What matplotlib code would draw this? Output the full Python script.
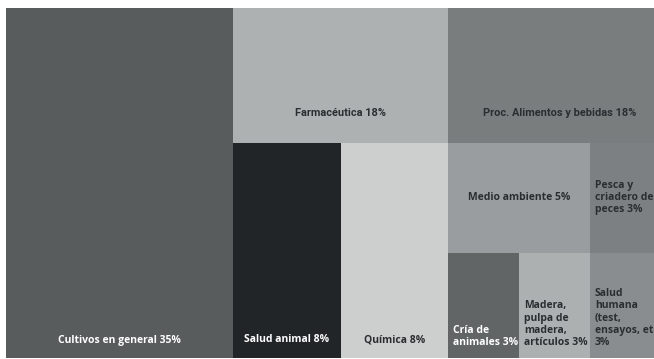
import matplotlib
matplotlib.use("Agg")
import matplotlib.pyplot as plt
from matplotlib.patches import Rectangle

# sector shares (%)
labels = ["Cultivos en general", "Farmacéutica", "Proc. Alimentos y bebidas",
          "Salud animal", "Química", "Medio ambiente",
          "Pesca y\ncriadero de\npeces", "Cría de\nanimales", "Madera,\npulpa de\nmadera,\nartículos",
          "Salud\nhumana\n(test,\nensayos, etc.)\n"]
shares = [35, 18, 18, 8, 8, 5, 3, 3, 3, 3]

# tile layout weights (slice and dice)
col_w = [226.7, 439.3]            # Cultivos | rest
rest_rows = [134.7, 215.3]        # top row | bottom block
top_w = [215, 224.3]              # Farmacéutica | Proc.
bottom_w = [108.3, 107, 224]      # Salud animal | Química | small block
small_rows = [110, 105.3]
small_top_w = [142, 82]
small_bot_w = [71, 71, 82]

colors = ["#585c5c", "#adb1b1", "#7a7d7e", "#222528", "#cdcfce",
          "#9a9d9f", "#7d8082", "#626566", "#adb0b1", "#8a8d8f"]
text_colors = ["white", "#2b2e31", "#2b2e31", "white", "#2b2e31",
               "#2b2e31", "#2b2e31", "white", "#2b2e31", "#2b2e31"]
# placement: (horizontal, vertical mode, offset)
placement = [("c", "bottom", 18), ("c", "bottom", 30), ("c", "bottom", 30),
             ("c", "bottom", 18), ("c", "bottom", 18), ("c", "mid", 0),
             ("l", "mid", 0), ("l", "bottom", 10), ("l", "bottom", 10),
             ("l", "bottom", 10)]


def split(x, y, w, h, weights, horizontal):
    out = []
    for wt in weights:
        if horizontal:
            out.append((x, y, wt, h))
            x += wt
        else:
            out.append((x, y, w, wt))
            y += wt
    return out


W = sum(col_w)
H = sum(rest_rows)
rects = []
c_cult, c_rest = split(0, 0, W, H, col_w, True)
rects.append(c_cult)
r_top, r_bot = split(*c_rest, rest_rows, False)
rects += split(*r_top, top_w, True)
b_sa, b_q, b_small = split(*r_bot, bottom_w, True)
rects += [b_sa, b_q]
s_top, s_bot = split(*b_small, small_rows, False)
rects += split(*s_top, small_top_w, True)
rects += split(*s_bot, small_bot_w, True)

fig = plt.figure(figsize=(6.54, 3.59), dpi=100)
ax = fig.add_axes([6 / 654, 1 / 359, W / 654, H / 359])
ax.set_xlim(0, W)
ax.set_ylim(H, 0)
ax.axis("off")

for i, (x, y, w, h) in enumerate(rects):
    ax.add_patch(Rectangle((x, y), w, h, facecolor=colors[i], edgecolor="none"))
    txt = f"{labels[i]} {shares[i]}%"
    if labels[i].endswith("\n"):
        txt = f"{labels[i]}{shares[i]}%"
    ha, vmode, off = placement[i]
    tx = x + w / 2 if ha == "c" else x + 5
    if vmode == "mid":
        ty, va = y + h / 2, "center"
    else:
        ty, va = y + h - off, ("center" if ha == "c" else "bottom")
    if i in (1, 2):
        fam, size = ["Roboto", "DejaVu Sans"], 7.9
    else:
        fam, size = ["Open Sans", "DejaVu Sans"], 7.5
    ax.text(tx, ty, txt, ha="center" if ha == "c" else "left", va=va,
            color=text_colors[i], fontsize=size,
            fontweight="bold", family=fam, linespacing=1.15, clip_on=False)

fig.savefig("out.png", dpi=100, facecolor="white")
